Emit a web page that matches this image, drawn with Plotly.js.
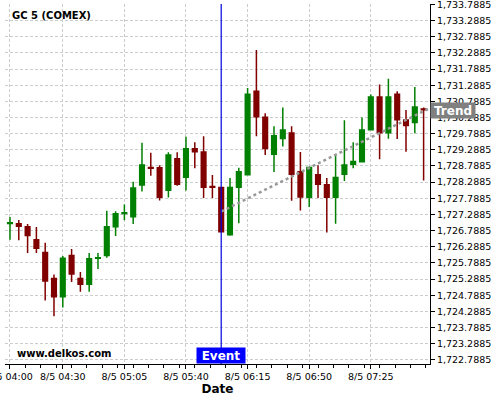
<!DOCTYPE html>
<html>
<head>
<meta charset="utf-8">
<script src="https://cdn.plot.ly/plotly-3.0.1.min.js"></script>
<style>html,body{margin:0;padding:0;background:#fff;}#chart{width:500px;height:400px;}</style>
</head>
<body>
<div id="chart"></div>
<script>
const times = [
  "2021-08-05 04:00","2021-08-05 04:05","2021-08-05 04:10","2021-08-05 04:15","2021-08-05 04:20","2021-08-05 04:25",
  "2021-08-05 04:30","2021-08-05 04:35","2021-08-05 04:40","2021-08-05 04:45","2021-08-05 04:50","2021-08-05 04:55",
  "2021-08-05 05:00","2021-08-05 05:05","2021-08-05 05:10","2021-08-05 05:15","2021-08-05 05:20","2021-08-05 05:25",
  "2021-08-05 05:30","2021-08-05 05:35","2021-08-05 05:40","2021-08-05 05:45","2021-08-05 05:50","2021-08-05 05:55",
  "2021-08-05 06:00","2021-08-05 06:05","2021-08-05 06:10","2021-08-05 06:15","2021-08-05 06:20","2021-08-05 06:25",
  "2021-08-05 06:30","2021-08-05 06:35","2021-08-05 06:40","2021-08-05 06:45","2021-08-05 06:50","2021-08-05 06:55",
  "2021-08-05 07:00","2021-08-05 07:05","2021-08-05 07:10","2021-08-05 07:15","2021-08-05 07:20","2021-08-05 07:25",
  "2021-08-05 07:30","2021-08-05 07:35","2021-08-05 07:40","2021-08-05 07:45","2021-08-05 07:50","2021-08-05 07:55"
];
const openV = [1727.01,1727.00,1726.91,1726.51,1726.11,1725.31,1724.74,1726.02,1725.31,1725.13,1725.93,1726.02,
  1726.91,1727.32,1727.22,1728.20,1728.74,1728.73,1728.04,1729.01,1728.44,1729.32,1729.22,1728.15,
  1728.12,1726.66,1728.13,1728.52,1731.10,1730.30,1729.15,1729.64,1729.81,1728.61,1727.82,1728.52,
  1728.21,1727.82,1728.53,1728.84,1728.92,1729.91,1730.92,1729.82,1731.01,1730.21,1730.13,1730.55];
const highV = [1727.21,1727.12,1726.99,1726.90,1726.41,1725.43,1726.00,1726.22,1725.51,1726.10,1726.10,1727.40,
  1727.39,1727.60,1728.30,1729.51,1729.20,1728.81,1729.21,1729.21,1729.69,1729.52,1729.71,1728.51,
  1728.13,1728.42,1728.73,1731.20,1732.38,1730.42,1730.02,1730.60,1730.02,1729.22,1728.77,1728.81,
  1728.42,1729.11,1730.20,1729.52,1730.29,1731.00,1731.31,1731.49,1731.10,1730.52,1731.23,1730.60];
const lowV = [1726.51,1726.49,1726.10,1726.10,1724.63,1724.14,1724.41,1725.20,1724.90,1724.90,1725.60,1725.95,
  1726.62,1727.11,1726.99,1728.00,1728.49,1727.72,1727.81,1728.18,1728.03,1728.72,1727.80,1727.80,
  1726.73,1726.63,1727.02,1728.50,1729.71,1729.13,1728.60,1729.39,1727.71,1727.41,1727.52,1727.80,
  1726.73,1727.00,1728.32,1728.72,1728.92,1729.89,1729.00,1729.63,1729.62,1729.23,1729.80,1728.34];
const closeV = [1727.03,1726.92,1726.64,1726.24,1725.23,1724.74,1725.93,1725.45,1725.13,1725.92,1725.95,1726.91,
  1727.31,1727.34,1728.11,1728.82,1728.72,1727.82,1729.13,1728.22,1729.32,1729.23,1728.13,1728.13,
  1726.75,1728.12,1728.61,1731.01,1730.31,1729.33,1729.72,1729.90,1728.53,1727.83,1728.74,1728.22,
  1727.82,1728.43,1728.82,1728.93,1729.90,1730.92,1729.82,1730.92,1730.22,1730.04,1730.61,1730.53];

const xTickVals = ["2021-08-05 04:00","2021-08-05 04:30","2021-08-05 05:05","2021-08-05 05:40","2021-08-05 06:15","2021-08-05 06:50","2021-08-05 07:25"];
const xTickText = ["8/5 04:00","8/5 04:30","8/5 05:05","8/5 05:40","8/5 06:15","8/5 06:50","8/5 07:25"];
const yTickVals = [1722.7885,1723.2885,1723.7885,1724.2885,1724.7885,1725.2885,1725.7885,1726.2885,1726.7885,1727.2885,
  1727.7885,1728.2885,1728.7885,1729.2885,1729.7885,1730.2885,1730.7885,1731.2885,1731.7885,1732.2885,1732.7885,1733.2885,1733.7885];
const yTickText = ["1,722.7885","1,723.2885","1,723.7885","1,724.2885","1,724.7885","1,725.2885","1,725.7885","1,726.2885","1,726.7885","1,727.2885",
  "1,727.7885","1,728.2885","1,728.7885","1,729.2885","1,729.7885","1,730.2885","1,730.7885","1,731.2885","1,731.7885","1,732.2885","1,732.7885","1,733.2885","1,733.7885"];

const eventTime = "2021-08-05 06:00";
const trendX = ["2021-08-05 06:00","2021-08-05 07:57:30"];
const trendY = [1727.38, 1730.55];
const trendLabelY = 1730.51;

const FONT = "DejaVu Sans, sans-serif";
const FONTB = "DejaVu Sans, sans-serif";

const traces = [
  {
    type: "candlestick",
    x: times, open: openV, high: highV, low: lowV, close: closeV,
    increasing: {line: {color: "#008000", width: 1.5}, fillcolor: "#008000"},
    decreasing: {line: {color: "#800000", width: 1.5}, fillcolor: "#800000"},
    whiskerwidth: 0,
    showlegend: false,
    hoverinfo: "skip"
  },
  {
    type: "scatter", mode: "lines",
    x: trendX, y: trendY,
    line: {color: "#999999", width: 2.5, dash: "dot"},
    showlegend: false, hoverinfo: "skip"
  }
];

const layout = {
  width: 500, height: 400,
  margin: {l: 5, r: 70, t: 4, b: 36},
  paper_bgcolor: "#ffffff", plot_bgcolor: "#ffffff",
  font: {family: FONT, size: 10, color: "#000"},
  showlegend: false,
  boxgap: 0.25,
  xaxis: {
    type: "date",
    range: ["2021-08-05 03:57:10", "2021-08-05 07:58:38"],
    rangeslider: {visible: false},
    tickmode: "array", tickvals: xTickVals, ticktext: xTickText,
    tickfont: {family: FONT, size: 9.5, color: "#000"},
    ticklabeloverflow: "allow",
    ticks: "outside", ticklen: 4, tickcolor: "#000",
    showline: true, linecolor: "#000", linewidth: 1,
    showgrid: true, gridcolor: "#cccccc", griddash: "3px,2px", gridwidth: 1,
    minor: {dtick: 525000, tick0: "2021-08-05 04:00", ticks: "outside", ticklen: 3, tickcolor: "#000", showgrid: false},
    zeroline: false,
    title: {text: "<b>Date</b>", font: {family: FONTB, size: 12, color: "#000"}, standoff: 3},
    fixedrange: true
  },
  yaxis: {
    side: "right",
    range: [1722.662, 1733.80],
    tickmode: "array", tickvals: yTickVals, ticktext: yTickText,
    tickfont: {family: FONT, size: 9.5, color: "#000"},
    ticklabeloverflow: "allow",
    ticks: "outside", ticklen: 4, tickcolor: "#000",
    showline: true, linecolor: "#000", linewidth: 1,
    showgrid: true, gridcolor: "#cccccc", griddash: "3px,2px", gridwidth: 1,
    zeroline: false,
    fixedrange: true
  },
  shapes: [
    {type: "line", xref: "x", yref: "paper", x0: eventTime, x1: eventTime, y0: 0, y1: 1,
     line: {color: "#0000e0", width: 1.2}}
  ],
  annotations: [
    {xref: "paper", yref: "paper", x: 0.0118, y: 0.9694, xanchor: "left", yanchor: "middle",
     text: "<b>GC 5 (COMEX)</b>", showarrow: false, font: {family: FONTB, size: 10, color: "#000"}},
    {xref: "paper", yref: "paper", x: 0.0235, y: 0.0278, xanchor: "left", yanchor: "middle",
     text: "<b>www.delkos.com</b>", showarrow: false, font: {family: FONTB, size: 10, color: "#000"}},
    {xref: "x", yref: "paper", x: eventTime, y: 0, xanchor: "center", yanchor: "bottom",
     text: "<b>Event</b>", showarrow: false, bgcolor: "#0000ff", borderpad: 0, width: 48, height: 15,
     font: {family: FONTB, size: 12, color: "#fff"}},
    {xref: "paper", yref: "y", x: 1, y: trendLabelY, xanchor: "left", yanchor: "middle",
     text: "<b>Trend</b>", showarrow: false, bgcolor: "#808080", borderpad: 0, width: 44, height: 15,
     font: {family: FONTB, size: 12, color: "#fff"}}
  ]
};

Plotly.newPlot("chart", traces, layout, {staticPlot: true, displayModeBar: false});
</script>
</body>
</html>
